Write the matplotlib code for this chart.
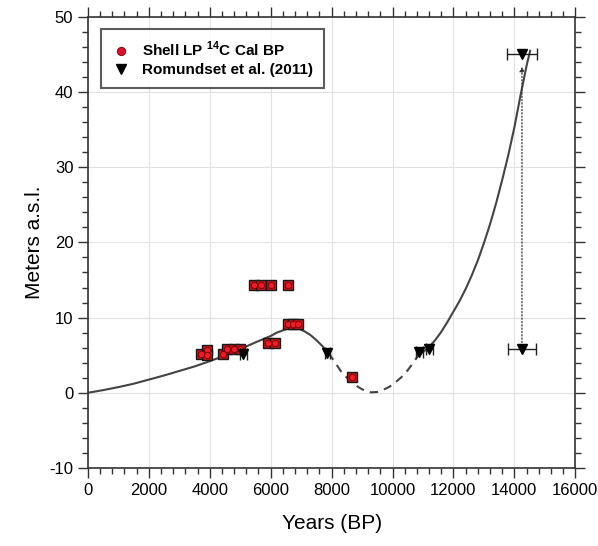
import matplotlib
matplotlib.use("Agg")
import matplotlib.pyplot as plt
from matplotlib.ticker import MultipleLocator
from matplotlib.lines import Line2D

plt.rcParams['font.family'] = ['Liberation Sans', 'DejaVu Sans']
plt.rcParams['mathtext.fontset'] = 'custom'
plt.rcParams['mathtext.rm'] = 'Liberation Sans'
plt.rcParams['mathtext.bf'] = 'Liberation Sans:bold'
plt.rcParams['axes.unicode_minus'] = False

# shell samples (years BP, m a.s.l.)
shell_x = [3700, 3900, 3925, 4424, 4553, 4800, 4990, 5453, 5673, 6003, 6580,
           5925, 6143, 6580, 6745, 6910, 8663]
shell_y = [5.1, 5.7, 5.0, 5.1, 5.8, 5.8, 5.8, 14.4, 14.4, 14.4, 14.4,
           6.6, 6.6, 9.1, 9.1, 9.1, 2.1]

# Romundset et al. (2011)
rom_x = [5103, 7865, 10885, 11213, 14250, 14250]
rom_y = [5.1, 5.3, 5.4, 5.8, 5.8, 45.1]
rom_err = [120, 80, 120, 100, 450, 480]

# fitted sea-level curve
curve1_x = [0, 500, 1000, 1500, 2000, 2500, 3000, 3500, 4000, 4500, 5000, 5500,
            6000, 6200, 6500, 6700, 6900, 7100, 7300, 7500, 7700, 7900]
curve1_y = [0, 0.35, 0.75, 1.2, 1.75, 2.3, 2.9, 3.5, 4.2, 4.95, 5.8, 6.7,
            7.55, 8.0, 8.45, 8.65, 8.55, 8.2, 7.7, 7.0, 6.2, 5.3]
curve2_x = [7900, 8100, 8300, 8500, 8700, 8900, 9100, 9300, 9500, 9700, 9900,
            10100, 10300, 10500, 10700, 10850]
curve2_y = [5.3, 4.1, 2.9, 2.0, 1.3, 0.7, 0.25, 0.05, 0.1, 0.4, 0.8,
            1.4, 2.1, 3.0, 4.1, 5.0]
curve3_x = [10850, 11000, 11200, 11400, 11600, 11800, 12000, 12200, 12400, 12600,
            12800, 13000, 13200, 13400, 13600, 13800, 14000, 14200, 14400, 14520]
curve3_y = [5.0, 5.4, 6.1, 7.0, 8.1, 9.4, 10.8, 12.2, 13.8, 15.6,
            17.6, 19.9, 22.4, 25.2, 28.3, 31.6, 35.3, 39.5, 43.5, 45.5]

fig = plt.figure(figsize=(5.98, 5.46), dpi=100)
ax = fig.add_axes([0.147, 0.143, 0.815, 0.826])

ax.plot(curve1_x, curve1_y, color='#444444', lw=1.5, zorder=2)
ax.plot(curve2_x, curve2_y, color='#444444', lw=1.5, ls=(0, (4, 3)), zorder=2)
ax.plot(curve3_x, curve3_y, color='#444444', lw=1.5, zorder=2)

# dotted link between the two oldest points
ax.annotate('', xy=(rom_x[4], 43.4), xytext=(rom_x[4], rom_y[4]),
            arrowprops=dict(arrowstyle='-|>', ls=':', lw=0.9, color='#333333',
                            mutation_scale=7, shrinkA=0, shrinkB=0), zorder=2)

ax.plot(shell_x, shell_y, ls='none', marker='s', ms=6.5, mfc='#c0141c', mec='#1a1a1a',
        mew=1.0, zorder=3)
ax.plot(shell_x, shell_y, ls='none', marker='o', ms=4.5, mfc='#ee1c2a', mec='#7a0000',
        mew=0.6, zorder=4)

ax.errorbar(rom_x, rom_y, xerr=rom_err, fmt='v', color='black', ms=7, ecolor='#222222',
            elinewidth=1.0, capsize=4, capthick=1.0, zorder=5)

ax.set_xlim(0, 16000)
ax.set_ylim(-10, 50)
ax.xaxis.set_major_locator(MultipleLocator(2000))
ax.xaxis.set_minor_locator(MultipleLocator(400))
ax.yaxis.set_major_locator(MultipleLocator(10))
ax.yaxis.set_minor_locator(MultipleLocator(2))
ax.grid(True, which='major', color='#e2e2e2', lw=0.8)
ax.set_axisbelow(True)
ax.tick_params(which='both', direction='out', top=True, right=True, color='#333333',
               labelsize=12, width=1.0)
ax.tick_params(which='major', length=7)
ax.tick_params(which='minor', length=4)
for s in ax.spines.values():
    s.set_color('#333333')
    s.set_linewidth(1.2)

ax.set_xlabel('Years (BP)', fontsize=15, labelpad=12)
ax.set_ylabel('Meters a.s.l.', fontsize=15, labelpad=4)

handles = [
    Line2D([], [], ls='none', marker='o', ms=6, mfc='#e0102a', mec='#7a0000', mew=0.6),
    Line2D([], [], ls='none', marker='v', ms=7, color='black'),
]
labels = [r'Shell LP $^{\mathbf{14}}$C Cal BP', 'Romundset et al. (2011)']
leg = ax.legend(handles, labels, loc='upper left', bbox_to_anchor=(0.027, 0.973),
                borderaxespad=0, fancybox=False, frameon=True, edgecolor='#333333',
                borderpad=0.7, handlelength=1.2, handletextpad=0.8,
                prop={'weight': 'bold', 'size': 11}, labelspacing=0.25)
leg.get_frame().set_linewidth(1.5)

fig.savefig('out.png', dpi=100)
